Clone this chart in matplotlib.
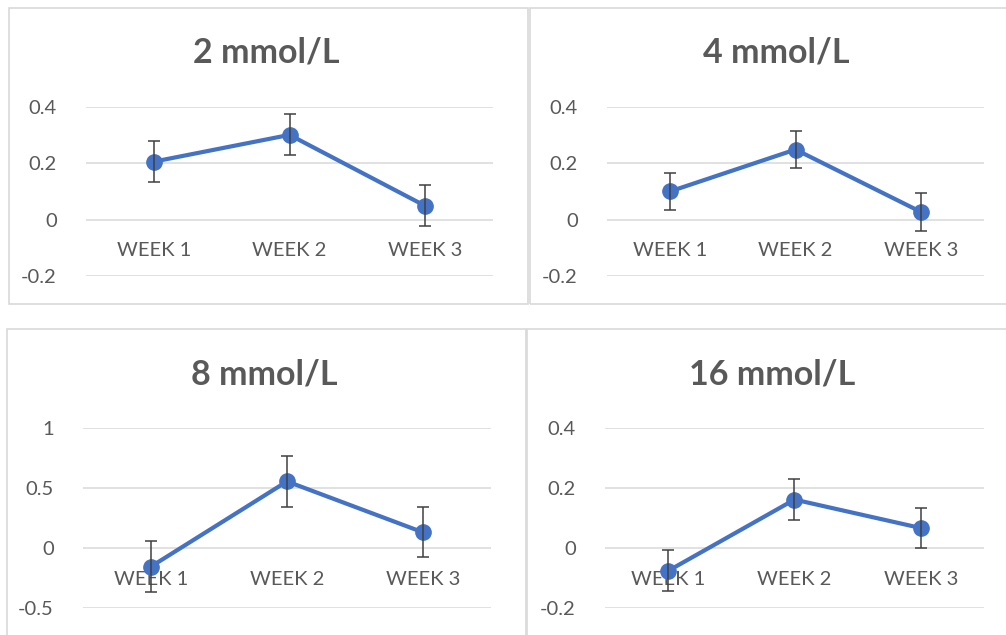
import matplotlib
matplotlib.use("Agg")
from matplotlib import pyplot as plt
from matplotlib.patches import Rectangle

plt.rcParams['font.family'] = ['Lato', 'DejaVu Sans']

weeks = ["WEEK 1", "WEEK 2", "WEEK 3"]
titles = ["2 mmol/L", "4 mmol/L", "8 mmol/L", "16 mmol/L"]
vals_2 = [0.206, 0.301, 0.049]
vals_4 = [0.100, 0.249, 0.027]
vals_8 = [-0.156, 0.556, 0.130]
vals_16 = [-0.076, 0.162, 0.067]
err_2 = [0.073, 0.073, 0.073]
err_4 = [0.066, 0.066, 0.066]
err_8 = [0.21, 0.21, 0.21]
err_16 = [0.068, 0.068, 0.068]
yticks_2 = [-0.2, 0, 0.2, 0.4]
yticks_4 = [-0.2, 0, 0.2, 0.4]
yticks_8 = [-0.5, 0, 0.5, 1]
yticks_16 = [-0.2, 0, 0.2, 0.4]
ytick_labels_2 = ["-0.2", "0", "0.2", "0.4"]
ytick_labels_8 = ["-0.5", "0", "0.5", "1"]

W, H = 1006, 635
blue = "#4472C4"
grey_txt = "#595959"
grid_c = "#D9D9D9"

fig = plt.figure(figsize=(W / 100, H / 100), dpi=100)

def px(x0, y0, x1, y1):
    # pixel box (top-left origin) -> figure fraction rect
    return [x0 / W, 1 - y1 / H, (x1 - x0) / W, (y1 - y0) / H]

# chart frames
frames = [(9, 8, 528, 304), (530, 8, 1010, 304), (7, 329, 526, 640), (527, 329, 1010, 640)]
for (x0, y0, x1, y1) in frames:
    r = Rectangle((x0 / W, 1 - y1 / H), (x1 - x0) / W, (y1 - y0) / H,
                  transform=fig.transFigure, fill=False, ec=grid_c, lw=1.2)
    fig.patches.append(r)

panels = [
    (px(86, 107, 493, 276), vals_2, err_2, yticks_2, ytick_labels_2, titles[0], (266, 53)),
    (px(607, 107, 984, 276), vals_4, err_4, yticks_4, ytick_labels_2, titles[1], (776, 53)),
    (px(83, 428.3, 491, 607.7), vals_8, err_8, yticks_8, ytick_labels_8, titles[2], (264, 375)),
    (px(605, 428.3, 984, 608), vals_16, err_16, yticks_16, ytick_labels_2, titles[3], (772, 375)),
]

for rect, vals, errs, yt, ytl, title, tpos in panels:
    ax = fig.add_axes(rect)
    x = range(len(weeks))
    ax.plot(x, vals, color=blue, lw=3.0, marker="o", ms=11, zorder=3)
    ax.errorbar(x, vals, yerr=errs, fmt="none", ecolor="#404040", elinewidth=1.1,
                capsize=4.5, capthick=1.1, zorder=4)
    ax.set_xlim(-0.5, 2.5)
    ax.set_ylim(yt[0], yt[-1])
    ax.set_yticks(yt)
    ax.set_yticklabels(ytl)
    ax.set_xticks([])
    ax.tick_params(axis="y", length=0, pad=21, labelsize=14.5, labelcolor=grey_txt)
    for s in ax.spines.values():
        s.set_visible(False)
    ax.grid(axis="y", color=grid_c, lw=1.1)
    ax.set_axisbelow(True)
    ax.patch.set_alpha(0)
    for i, w in enumerate(weeks):
        ax.annotate(w, xy=(i, 0), xytext=(0, -22.5), textcoords="offset points",
                    ha="center", va="center", fontsize=14.5, color=grey_txt, zorder=2)
    fig.text(tpos[0] / W, 1 - tpos[1] / H, title, ha="center", va="center",
             fontsize=24.5, fontweight="bold", color=grey_txt)

fig.savefig("out.png", dpi=100)
